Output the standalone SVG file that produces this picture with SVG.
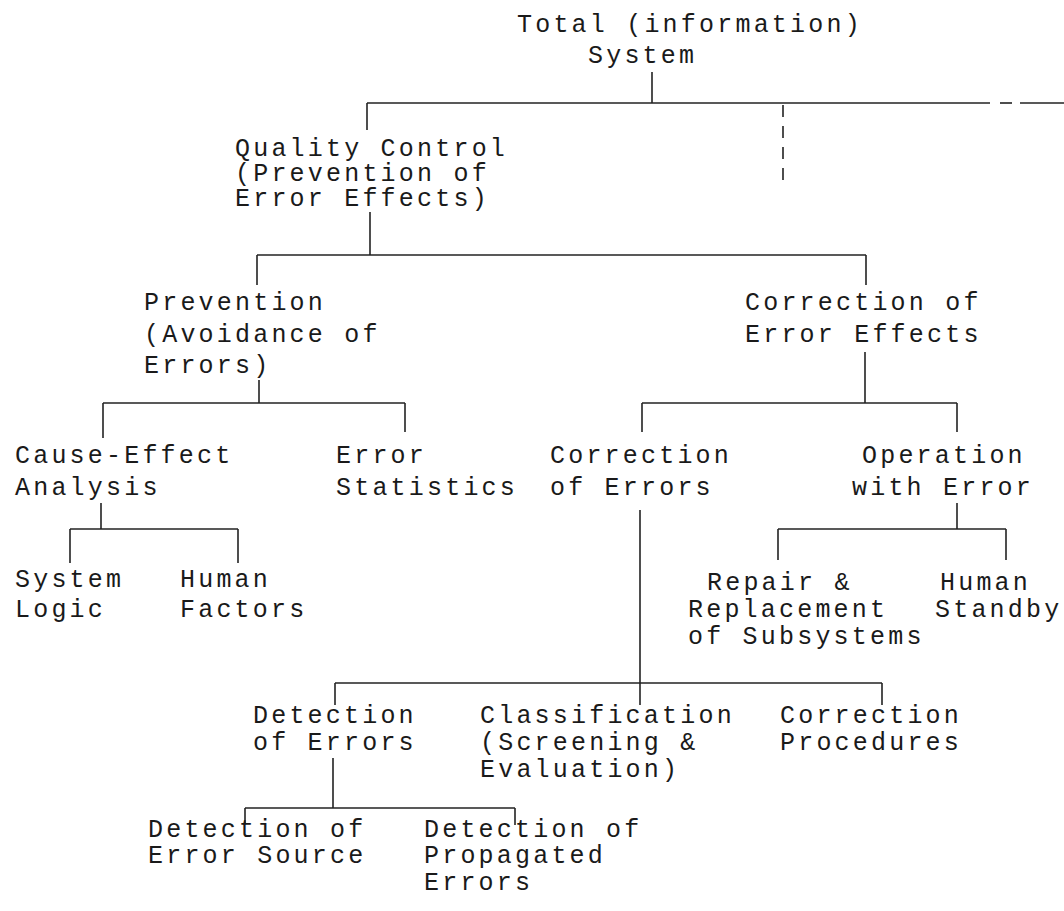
<svg xmlns="http://www.w3.org/2000/svg" width="1064" height="911" viewBox="0 0 1064 911">
<style>
text{font-family:"Liberation Mono","DejaVu Sans Mono",monospace;font-size:25px;letter-spacing:3.2px;fill:#1a1a1a}
.c line{stroke:#222;stroke-width:1.6}
.d{stroke-dasharray:12 9}
</style>
<rect width="1064" height="911" fill="#fff"/>
<g class="c" id="connectors">
<line x1="652" y1="72" x2="652" y2="103"/>
<line x1="367" y1="103" x2="990" y2="103"/>
<line x1="1000" y1="103" x2="1012" y2="103"/>
<line x1="1020" y1="103" x2="1064" y2="103"/>
<line x1="367" y1="103" x2="367" y2="130"/>
<line class="d" x1="783" y1="105" x2="783" y2="185"/>
<line x1="370" y1="212" x2="370" y2="255"/>
<line x1="257" y1="255" x2="866" y2="255"/>
<line x1="257" y1="255" x2="257" y2="285"/>
<line x1="866" y1="255" x2="866" y2="285"/>
<line x1="259" y1="380" x2="259" y2="403"/>
<line x1="865" y1="352" x2="865" y2="403"/>
<line x1="103" y1="403" x2="405" y2="403"/>
<line x1="103" y1="403" x2="103" y2="438"/>
<line x1="405" y1="403" x2="405" y2="432"/>
<line x1="642" y1="403" x2="957" y2="403"/>
<line x1="642" y1="403" x2="642" y2="432"/>
<line x1="957" y1="403" x2="957" y2="432"/>
<line x1="101" y1="503" x2="101" y2="529"/>
<line x1="70" y1="529" x2="238" y2="529"/>
<line x1="70" y1="529" x2="70" y2="563"/>
<line x1="238" y1="529" x2="238" y2="563"/>
<line x1="957" y1="503" x2="957" y2="529"/>
<line x1="778" y1="529" x2="1006" y2="529"/>
<line x1="778" y1="529" x2="778" y2="560"/>
<line x1="1006" y1="529" x2="1006" y2="560"/>
<line x1="640" y1="510" x2="640" y2="705"/>
<line x1="335" y1="683" x2="882" y2="683"/>
<line x1="335" y1="683" x2="335" y2="705"/>
<line x1="882" y1="683" x2="882" y2="705"/>
<line x1="333" y1="758" x2="333" y2="808"/>
<line x1="245" y1="808" x2="515" y2="808"/>
<line x1="245" y1="808" x2="245" y2="823"/>
<line x1="515" y1="808" x2="515" y2="825"/>
</g>
<g id="total"><text x="517" y="32">Total (information)</text><text x="588" y="63">System</text></g>
<g id="quality"><text x="235" y="156">Quality Control</text><text x="235" y="181">(Prevention of</text><text x="235" y="206">Error Effects)</text></g>
<g id="prevention"><text x="144" y="310">Prevention</text><text x="144" y="342">(Avoidance of</text><text x="144" y="373">Errors)</text></g>
<g id="correction-effects"><text x="745" y="310">Correction of</text><text x="745" y="342">Error Effects</text></g>
<g id="cause-effect"><text x="15" y="463">Cause-Effect</text><text x="15" y="495">Analysis</text></g>
<g id="statistics"><text x="336" y="463">Error</text><text x="336" y="495">Statistics</text></g>
<g id="correction-errors"><text x="550" y="463">Correction</text><text x="550" y="495">of Errors</text></g>
<g id="operation"><text x="862" y="463">Operation</text><text x="852" y="495">with Error</text></g>
<g id="system-logic"><text x="15" y="587">System</text><text x="15" y="617">Logic</text></g>
<g id="human-factors"><text x="180" y="587">Human</text><text x="180" y="617">Factors</text></g>
<g id="repair"><text x="707" y="590">Repair &amp;</text><text x="688" y="617">Replacement</text><text x="688" y="644">of Subsystems</text></g>
<g id="standby"><text x="940" y="590">Human</text><text x="935" y="617">Standby</text></g>
<g id="detection"><text x="253" y="723">Detection</text><text x="253" y="750">of Errors</text></g>
<g id="classification"><text x="480" y="723">Classification</text><text x="480" y="750">(Screening &amp;</text><text x="480" y="777">Evaluation)</text></g>
<g id="procedures"><text x="780" y="723">Correction</text><text x="780" y="750">Procedures</text></g>
<g id="source"><text x="148" y="837">Detection of</text><text x="148" y="863">Error Source</text></g>
<g id="propagated"><text x="424" y="837">Detection of</text><text x="424" y="863">Propagated</text><text x="424" y="890">Errors</text></g>
</svg>
